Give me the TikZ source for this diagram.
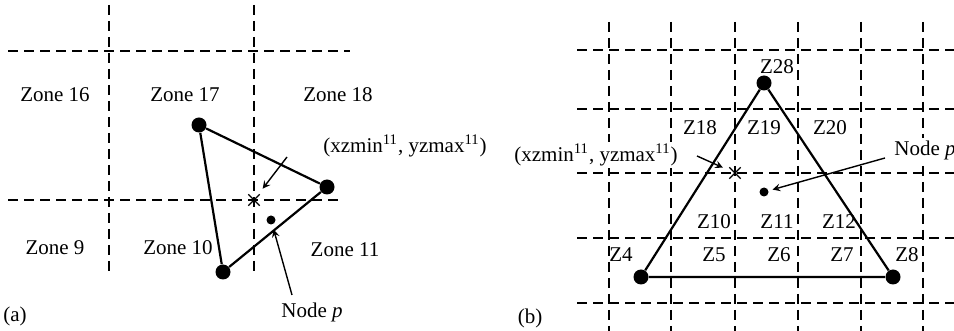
\documentclass[tikz,border=0pt]{standalone}
\usepackage{fontspec}
\setmainfont{Liberation Serif}
\usetikzlibrary{shapes.misc}

\begin{document}
\begin{tikzpicture}[
    x=0.5pt, y=-0.5pt,
    font=\fontsize{10.5}{12}\selectfont,
    gridline/.style={dash pattern=on 5pt off 3pt, line width=0.8pt},
    vertex/.style={circle, fill, inner sep=0pt, minimum size=7.5pt},
    nodep/.style={circle, fill, inner sep=0pt, minimum size=4.5pt},
    mycross/.style={cross out, draw, line width=0.7pt, inner sep=0pt, minimum size=5pt},
    edge/.style={line width=1.1pt},
    myarrow/.style={->, >=stealth, line width=0.7pt},
    zonelabel/.style={inner sep=1pt},
    boxlabel/.style={zonelabel, fill=white},
]
\useasboundingbox (0,0) rectangle (954,331);

% (a)
\draw[gridline] (109,5) -- (109,273);
\draw[gridline] (254,5) -- (254,273);
\draw[gridline] (8,51) -- (350,51);
\draw[gridline] (8,200) -- (340,200);

\node[zonelabel] (z16) at (55,95) {Zone 16};
\node[zonelabel] (z17) at (185,95) {Zone 17};
\node[zonelabel] (z18) at (338,95) {Zone 18};
\node[zonelabel] (z9) at (55,248) {Zone 9};
\node[zonelabel] (z10) at (178,248) {Zone 10};
\node[zonelabel] (z11) at (345,250) {Zone 11};

\node[vertex] (a1) at (199,125) {};
\node[vertex] (a2) at (327,187) {};
\node[vertex] (a3) at (223,272) {};
\draw[edge] (a1) -- (a2) -- (a3) -- (a1);

\node[mycross] (xa) at (254,200) {};
\node[nodep] (pa) at (271,220) {};

\node[boxlabel, anchor=west] (corna) at (321,146) {(xzmin\textsuperscript{11}, yzmax\textsuperscript{11})};
\coordinate (corna-from) at (287,157);
\draw[myarrow, shorten >=3.5pt] (corna-from) -- (xa);

\node[zonelabel] (nodepa) at (312,312) {Node \textit{p}};
\coordinate (nodepa-from) at (292,295);
\draw[myarrow, shorten >=2.5pt] (nodepa-from) -- (pa);

\node[zonelabel] (tagA) at (15,316) {(a)};

% (b)
\foreach \gx in {609,671,735,798,861,923}
    \draw[gridline] (\gx,22) -- (\gx,331);
\foreach \gy in {50,109,173,238,303}
    \draw[gridline] (577,\gy) -- (954,\gy);

\node[zonelabel] (lz28) at (777,67) {Z28};
\node[zonelabel] (lz18) at (700,128) {Z18};
\node[zonelabel] (lz19) at (764,128) {Z19};
\node[zonelabel] (lz20) at (830,128) {Z20};
\node[zonelabel] (lz10) at (714,222) {Z10};
\node[zonelabel] (lz11) at (777,222) {Z11};
\node[zonelabel] (lz12) at (839,222) {Z12};
\node[zonelabel] (lz4) at (621,255) {Z4};
\node[zonelabel] (lz5) at (714,255) {Z5};
\node[zonelabel] (lz6) at (779,255) {Z6};
\node[zonelabel] (lz7) at (842,255) {Z7};
\node[zonelabel] (lz8) at (907,255) {Z8};

\node[vertex] (b28) at (764,83) {};
\node[vertex] (b4) at (641,277) {};
\node[vertex] (b8) at (893,277) {};
\draw[edge] (b28) -- (b8) -- (b4) -- (b28);

\node[mycross] (xb) at (735,173) {};
\node[nodep] (pb) at (764,192) {};

\node[boxlabel] (cornb) at (596,155) {(xzmin\textsuperscript{11}, yzmax\textsuperscript{11})};
\coordinate (cornb-from) at (697,156);
\draw[myarrow, shorten >=3.5pt] (cornb-from) -- (xb);

\node[boxlabel, anchor=west] (nodepb) at (892,150) {Node \textit{p}};
\coordinate (nodepb-from) at (885,158);
\draw[myarrow, shorten >=2pt] (nodepb-from) -- (pb);

\node[zonelabel] (tagB) at (530,318) {(b)};
\end{tikzpicture}
\end{document}
